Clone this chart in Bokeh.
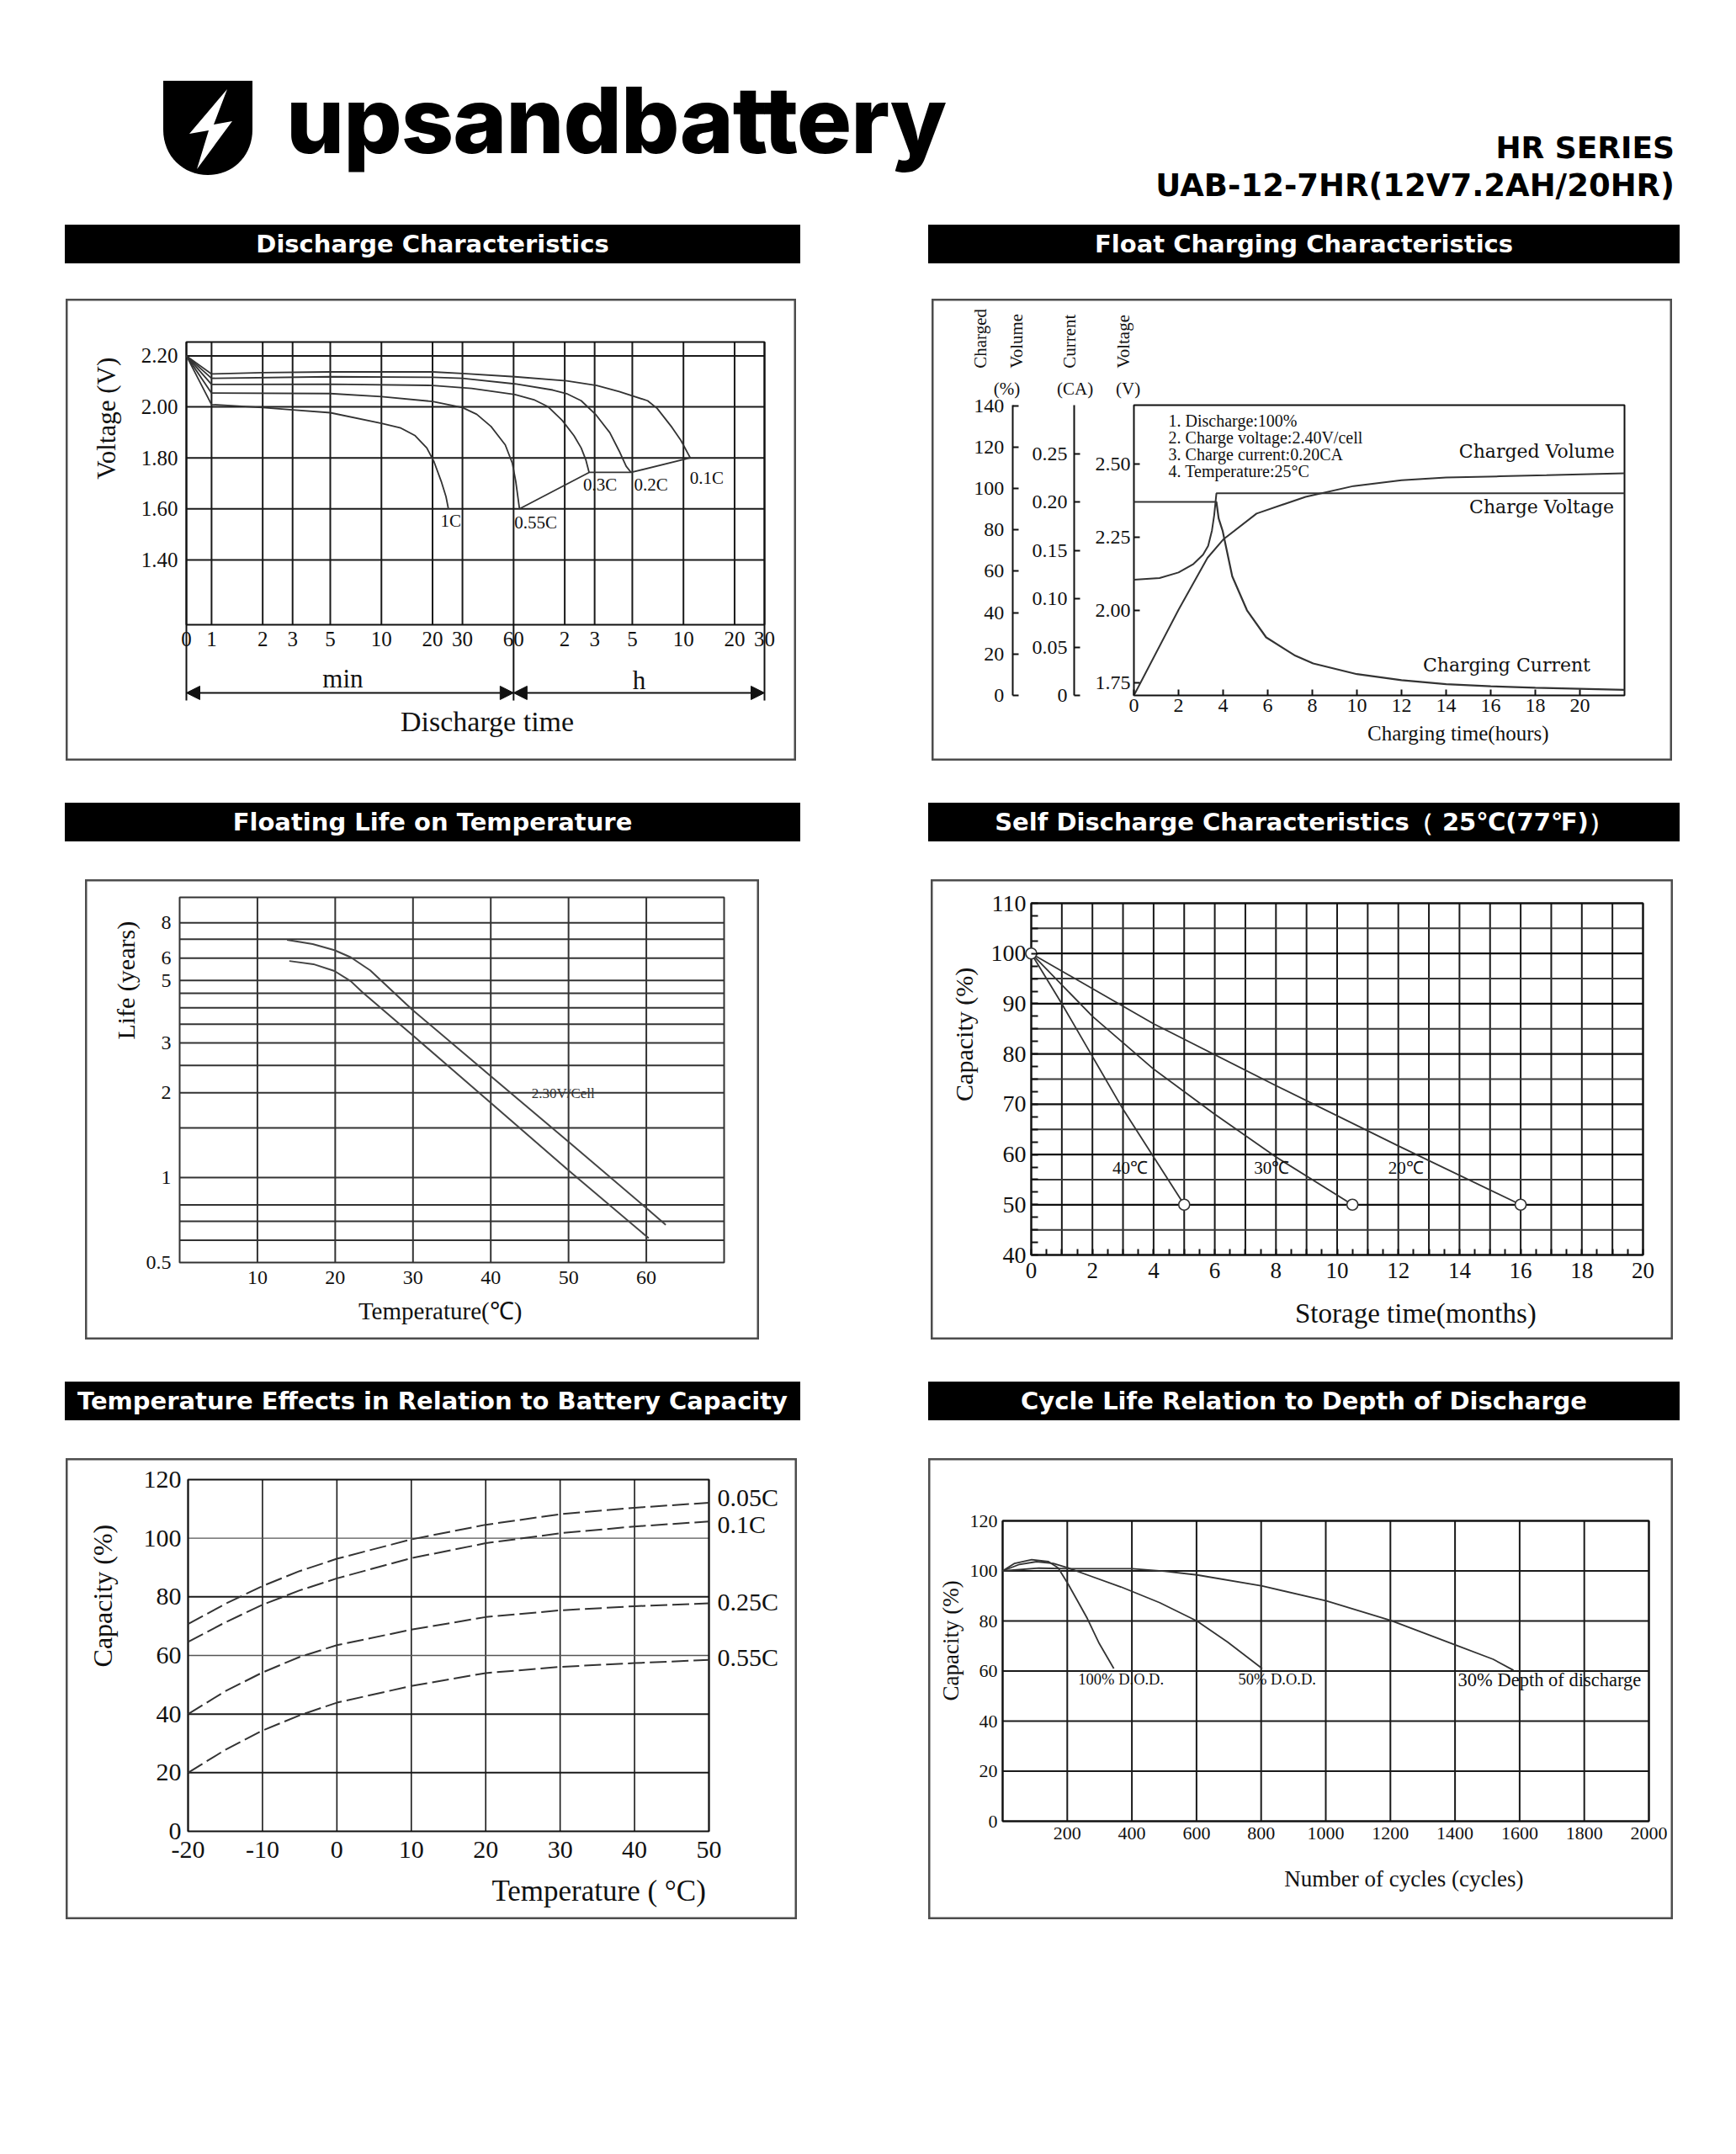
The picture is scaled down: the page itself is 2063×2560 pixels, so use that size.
import numpy as np
from bokeh.plotting import figure
from bokeh.models import (Range1d, LinearAxis, FixedTicker, Label, Arrow, NormalHead,
                          PrintfTickFormatter, Div, Spacer)
from bokeh.layouts import column, row
from bokeh.core.properties import value
from bokeh.embed import file_html
from bokeh.resources import INLINE

SERIF = "Liberation Serif"
TXT = "#111111"
CURVE = "#333333"
GRID = "#1a1a1a"

# ---------------------------------------------------------------- data
# 1) Discharge characteristics (time in minutes, cell voltage)
DIS_T0, DIS_T1 = 0.711, 1800          # time axis: "0" ... 30 h
DIS_V0, DIS_V1 = 1.146, 2.254
dis_ticks = [DIS_T0, 1, 2, 3, 5, 10, 20, 30, 60, 120, 180, 300, 600, 1200, 1800]
dis_tick_labels = ["0", "1", "2", "3", "5", "10", "20", "30", "60", "2", "3", "5", "10", "20", "30"]
dis_v_ticks = [1.4, 1.6, 1.8, 2.0, 2.2]
dis_1c_t = [0.711, 1, 2, 3, 5, 10, 13, 15.8, 18.5, 20.4, 22.5, 24, 24.8]
dis_1c_v = [2.20, 2.009, 1.997, 1.988, 1.977, 1.935, 1.917, 1.887, 1.839, 1.785, 1.708, 1.648, 1.600]
dis_055_t = [0.711, 1, 5, 10, 20, 30, 36.4, 44.2, 53.6, 59, 61.8, 65]
dis_055_v = [2.20, 2.054, 2.052, 2.040, 2.021, 1.997, 1.971, 1.923, 1.851, 1.779, 1.708, 1.600]
dis_03_t = [0.711, 1, 5, 20, 34, 61, 79, 96, 116, 136, 150, 160, 167]
dis_03_v = [2.20, 2.088, 2.089, 2.084, 2.072, 2.048, 2.028, 2.000, 1.947, 1.887, 1.839, 1.791, 1.743]
dis_02_t = [0.711, 1, 5, 20, 30, 61, 102, 123, 150, 182, 221, 251, 276, 295]
dis_02_v = [2.20, 2.112, 2.118, 2.116, 2.112, 2.090, 2.066, 2.052, 2.024, 1.971, 1.899, 1.827, 1.767, 1.743]
dis_01_t = [0.711, 1, 2, 5, 20, 30, 61, 123, 185, 251, 369, 420, 509, 579, 658]
dis_01_v = [2.20, 2.129, 2.134, 2.137, 2.137, 2.131, 2.118, 2.102, 2.084, 2.060, 2.024, 1.994, 1.923, 1.869, 1.800]
dis_names = ["1C", "0.55C", "0.3C", "0.2C", "0.1C"]
dis_label_t = [25.6, 81, 194, 386, 824]
dis_label_v = [1.552, 1.546, 1.696, 1.696, 1.722]

# 2) Float charging characteristics (hours)
FC_T0, FC_T1 = 0, 22
FC_V0, FC_V1 = 1.708, 2.702
FC_A1, FC_P1 = 0.30, 140.3
fc_x_ticks = list(range(0, 21, 2))
fc_vol_t = [0, 2.0, 3.3, 4.0, 5.5, 7.7, 9.85, 12, 14, 16.4, 18.5, 22]
fc_vol_pct = [0, 41.4, 66.5, 75.3, 87.9, 96.0, 101.2, 104.0, 105.3, 105.9, 106.4, 107.4]
fc_volt_t = [0, 1.15, 2.0, 2.67, 3.1, 3.33, 3.5, 3.6, 3.7, 22]
fc_volt_v = [2.104, 2.11, 2.129, 2.158, 2.19, 2.22, 2.273, 2.325, 2.40, 2.40]
fc_cur_t = [0, 3.7, 3.8, 3.98, 4.41, 5.07, 5.93, 7.24, 8.04, 10, 12, 14, 16, 18, 20, 22]
fc_cur_a = [0.20, 0.20, 0.183, 0.170, 0.123, 0.088, 0.060, 0.041, 0.033, 0.022, 0.0158,
            0.0117, 0.0095, 0.0079, 0.0069, 0.0057]
fc_v_ticks = [1.75, 2.00, 2.25, 2.50]
fc_a_ticks = [0, 0.05, 0.10, 0.15, 0.20, 0.25]
fc_p_ticks = [0, 20, 40, 60, 80, 100, 120, 140]
fc_notes = ["1. Discharge:100%", "2. Charge voltage:2.40V/cell",
            "3. Charge current:0.20CA", "4. Temperature:25°C"]

# 3) Floating life on temperature (deg C, years)
FL_T0, FL_T1 = 0, 70
FL_Y0, FL_Y1 = 0.5, 9.85
fl_x_ticks = [10, 20, 30, 40, 50, 60]
fl_y_ticks = [0.5, 1, 2, 3, 5, 6, 8]
fl_y_labels = ["0.5", "1", "2", "3", "5", "6", "8"]
fl_grid = [0.6, 0.7, 0.8, 1, 1.5, 2, 2.5, 3, 3.5, 4, 4.5, 5, 6, 7, 8]
fl_hi_t = [13.8, 17.1, 19.9, 22, 24.5, 29.9, 40, 50, 60, 62.5]
fl_hi_y = [6.96, 6.73, 6.40, 6.04, 5.43, 3.94, 2.29, 1.34, 0.78, 0.68]
fl_lo_t = [14.1, 17.2, 19.9, 22, 23.5, 30, 40, 50, 60.3]
fl_lo_y = [5.86, 5.71, 5.40, 4.97, 4.54, 3.19, 1.84, 1.06, 0.61]

# 4) Self discharge (months, capacity %)
SD_T0, SD_T1, SD_C0, SD_C1 = 0, 20, 40, 110
sd_40_t = [0, 1, 2, 3, 4, 5]
sd_40_c = [100, 90, 79.5, 69, 59.5, 50]
sd_30_t = [0, 2, 4, 6, 8, 10.5]
sd_30_c = [100, 87.5, 77, 68, 59.5, 50]
sd_20_t = [0, 4, 8, 12, 16]
sd_20_c = [100, 86, 73.7, 61.7, 50]
sd_names = ["40℃", "30℃", "20℃"]
sd_label_t = [3.23, 7.86, 12.25]
sd_label_c = [57.3, 57.3, 57.3]

# 5) Temperature effects on capacity (deg C, %)
TE_T0, TE_T1, TE_C0, TE_C1 = -20, 50, 0, 120
te_x_ticks = [-20, -10, 0, 10, 20, 30, 40, 50]
te_x_labels = ["-20", "-10", "0", "10", "20", "30", "40", "50"]
te_t = [-20, -15, -10, -5, 0, 10, 20, 30, 40, 50]
te_005 = [70.7, 77.6, 83.7, 88.8, 93.0, 99.6, 104.6, 108.2, 110.4, 112.1]
te_01 = [64.6, 71.3, 77.3, 82.2, 86.3, 93.2, 98.3, 101.7, 104.0, 105.7]
te_025 = [40.0, 47.8, 54.2, 59.5, 63.5, 68.8, 73.1, 75.4, 76.8, 77.8]
te_055 = [20.0, 27.8, 34.4, 39.6, 43.9, 49.6, 54.0, 56.1, 57.4, 58.5]
te_names = ["0.05C", "0.1C", "0.25C", "0.55C"]
te_label_y = [113.9, 104.9, 78.4, 59.3]

# 6) Cycle life vs depth of discharge (cycles, %)
CL_N0, CL_N1, CL_C0, CL_C1 = 0, 2000, 0, 120
cl_100_n = [0, 37, 90, 142, 172, 202, 232, 262, 299, 344]
cl_100_c = [100, 103.0, 104.5, 103.7, 101.2, 94.9, 88.0, 81.0, 71.0, 61.0]
cl_50_n = [0, 52, 105, 157, 202, 262, 366, 486, 601, 696, 803]
cl_50_c = [100, 102.6, 103.7, 103.0, 101.2, 98.4, 93.6, 87.3, 80.0, 71.6, 61.0]
cl_30_n = [0, 112, 202, 401, 501, 601, 803, 1002, 1201, 1402, 1518, 1581]
cl_30_c = [100, 101.1, 100.9, 100.9, 99.9, 98.4, 94.0, 88.0, 80.2, 70.4, 64.7, 60.3]
cl_names = ["100% D.O.D.", "50% D.O.D.", "30% Depth of discharge"]
cl_label_n = [234, 729, 1409]
cl_label_c = [56.5, 56.5, 56.5]


# ---------------------------------------------------------------- helpers
def ext_range(lo, hi, pad_lo, pad_hi, inner, log=False):
    """View range whose [lo, hi] part occupies `inner` px with the given pixel padding."""
    if log:
        a, b = np.log10(lo), np.log10(hi)
        k = (b - a) / inner
        return Range1d(10 ** (a - pad_lo * k), 10 ** (b + pad_hi * k))
    k = (hi - lo) / inner
    return Range1d(lo - pad_lo * k, hi + pad_hi * k)


def chart(W, H, ml, mr, mt, mb, xlo, xhi, ylo, yhi, x_log=False, y_log=False):
    xr = ext_range(xlo, xhi, ml, mr, W - ml - mr, x_log)
    yr = ext_range(ylo, yhi, mb, mt, H - mt - mb, y_log)
    p = figure(width=W, height=H, x_range=xr, y_range=yr,
               x_axis_type="log" if x_log else "linear",
               y_axis_type="log" if y_log else "linear",
               output_backend="svg", toolbar_location=None, min_border=0)
    p.outline_line_color = "#4d4d4d"
    p.outline_line_width = 4
    p.background_fill_color = "white"
    p.border_fill_color = "white"
    p.grid.visible = False
    for ax in p.axis:
        ax.axis_line_color = None
        ax.major_tick_out = 0
        ax.major_tick_in = 0
        ax.minor_tick_out = 0
        ax.minor_tick_in = 0
        ax.major_tick_line_color = TXT
        ax.major_tick_line_width = 2
        ax.minor_tick_line_color = TXT
        ax.minor_tick_line_width = 2
        ax.major_label_text_font = SERIF
        ax.major_label_text_color = TXT
    p.xaxis.fixed_location = ylo
    p.yaxis.fixed_location = xlo
    p.xaxis.bounds = (xlo, xhi)
    p.yaxis.bounds = (ylo, yhi)
    return p


def vlines(p, xs, y0, y1, color=GRID, width=2):
    p.segment(x0=xs, y0=[y0] * len(xs), x1=xs, y1=[y1] * len(xs),
              line_color=color, line_width=width)


def hlines(p, ys, x0, x1, color=GRID, width=2):
    p.segment(x0=[x0] * len(ys), y0=ys, x1=[x1] * len(ys), y1=ys,
              line_color=color, line_width=width)


def box(p, x0, x1, y0, y1, color="#111111", width=2):
    p.quad(left=x0, right=x1, bottom=y0, top=y1, fill_color=None,
           line_color=color, line_width=width)


def lab(p, x, y, text, size, angle=0.0, align="center", baseline="middle",
        font=SERIF, x_offset=0, color=TXT):
    p.add_layout(Label(x=x, y=y, text=text, angle=angle, text_align=align,
                       text_baseline=baseline, text_font=font,
                       text_font_size=f"{size}px", text_color=color,
                       x_offset=x_offset))


# ---------------------------------------------------------------- 1 discharge
p1 = chart(868, 549, 143, 38, 51, 162, DIS_T0, DIS_T1, DIS_V0, DIS_V1, x_log=True)
p1.xaxis.ticker = FixedTicker(ticks=dis_ticks)
p1.xaxis.major_label_overrides = dict(zip(dis_ticks, dis_tick_labels))
p1.xaxis.major_label_text_font_size = "25px"
p1.xaxis.major_label_standoff = 8
p1.yaxis.ticker = FixedTicker(ticks=dis_v_ticks)
p1.yaxis.formatter = PrintfTickFormatter(format="%.2f")
p1.yaxis.major_label_text_font_size = "25px"
p1.yaxis.major_label_standoff = 10
vlines(p1, dis_ticks, DIS_V0, DIS_V1)
hlines(p1, dis_v_ticks, DIS_T0, DIS_T1)
box(p1, DIS_T0, DIS_T1, DIS_V0, DIS_V1)

dis_curves = [(dis_1c_t, dis_1c_v), (dis_055_t, dis_055_v), (dis_03_t, dis_03_v),
              (dis_02_t, dis_02_v), (dis_01_t, dis_01_v)]
for t, v in dis_curves:
    p1.line(t, v, line_color=CURVE, line_width=1.8)
p1.line([c[0][-1] for c in dis_curves[1:]], [c[1][-1] for c in dis_curves[1:]],
        line_color=CURVE, line_width=1.8)
p1.text(x=dis_label_t, y=dis_label_v, text=dis_names, text_font=value(SERIF),
        text_font_size="21px", text_align="center", text_baseline="middle",
        text_color=TXT)

BR_LOW, BR_ARROW = 0.849, 0.879
for xb in [DIS_T0, 60, DIS_T1]:
    p1.add_layout(Arrow(end=None, x_start=xb, y_start=DIS_V0, x_end=xb, y_end=BR_LOW,
                        line_color=TXT, line_width=2))
for xa, xb in [(DIS_T0, 60), (60, DIS_T1)]:
    p1.add_layout(Arrow(start=NormalHead(size=16, fill_color=TXT, line_color=TXT),
                        end=NormalHead(size=16, fill_color=TXT, line_color=TXT),
                        x_start=xa, y_start=BR_ARROW, x_end=xb, y_end=BR_ARROW,
                        line_color=TXT, line_width=2))
lab(p1, 5.93, 0.935, "min", 31)
lab(p1, 329, 0.928, "h", 31)
lab(p1, 42, 0.766, "Discharge time", 34)
lab(p1, 0.24, 1.955, "Voltage (V)", 31, angle=np.pi / 2)

# ---------------------------------------------------------------- 2 float charging
p2 = chart(880, 549, 240, 57, 126, 78, FC_T0, FC_T1, FC_V0, FC_V1)
p2.extra_y_ranges = {
    "cur": ext_range(0, FC_A1, 78, 126, 549 - 126 - 78),
    "pct": ext_range(0, FC_P1, 78, 126, 549 - 126 - 78),
}
p2.xaxis.ticker = FixedTicker(ticks=fc_x_ticks)
p2.xaxis.major_label_text_font_size = "24px"
p2.xaxis.major_tick_in = 7
p2.xaxis.major_label_standoff = 4
vax = p2.yaxis[0]
vax.ticker = FixedTicker(ticks=fc_v_ticks)
vax.formatter = PrintfTickFormatter(format="%.2f")
vax.major_label_text_font_size = "24px"
vax.major_tick_in = 7
vax.major_label_standoff = 4

cax = LinearAxis(y_range_name="cur", fixed_location=-2.68, bounds=(0, FC_A1),
                 ticker=FixedTicker(ticks=fc_a_ticks),
                 formatter=PrintfTickFormatter(format="%.2f"))
cax.major_label_overrides = {0: "0"}
pax = LinearAxis(y_range_name="pct", fixed_location=-5.44, bounds=(0, FC_P1),
                 ticker=FixedTicker(ticks=fc_p_ticks))
for ax, so in [(cax, 8), (pax, 10)]:
    ax.axis_line_color = TXT
    ax.axis_line_width = 2
    ax.major_tick_in = 7
    ax.major_tick_out = 0
    ax.minor_tick_in = 0
    ax.minor_tick_out = 0
    ax.major_tick_line_color = TXT
    ax.major_tick_line_width = 2
    ax.major_label_standoff = so
    ax.major_label_text_font = SERIF
    ax.major_label_text_font_size = "24px"
    ax.major_label_text_color = TXT
    p2.add_layout(ax, "left")
box(p2, FC_T0, FC_T1, FC_V0, FC_V1)

p2.line(fc_vol_t, fc_vol_pct, y_range_name="pct", line_color=CURVE, line_width=2)
p2.line(fc_volt_t, fc_volt_v, line_color=CURVE, line_width=2)
p2.line(fc_cur_t, fc_cur_a, y_range_name="cur", line_color=CURVE, line_width=2.2)

for txt, xx in [("Charged", -6.87), ("Volume", -5.25), ("Current", -2.87), ("Voltage", -0.49)]:
    lab(p2, xx, 2.828, txt, 21, angle=np.pi / 2, align="left")
for txt, xx in [("(%)", -5.70), ("(CA)", -2.64), ("(V)", -0.26)]:
    lab(p2, xx, 2.759, txt, 21)
for i, note in enumerate(fc_notes):
    lab(p2, 1.55, 2.650 - 0.0585 * i, note, 20, align="left")
lab(p2, 21.56, 2.543, "Charged Volume", 22, align="right", font="DejaVu Serif")
lab(p2, 21.53, 2.353, "Charge Voltage", 22, align="right", font="DejaVu Serif")
lab(p2, 20.47, 1.811, "Charging Current", 22, align="right", font="DejaVu Serif")
lab(p2, 14.54, 1.578, "Charging time(hours)", 25)

# ---------------------------------------------------------------- 3 floating life
p3 = chart(801, 547, 112, 42, 21, 92, FL_T0, FL_T1, FL_Y0, FL_Y1, y_log=True)
p3.xaxis.ticker = FixedTicker(ticks=fl_x_ticks)
p3.xaxis.major_label_text_font_size = "24px"
p3.xaxis.major_label_standoff = 10
p3.yaxis.ticker = FixedTicker(ticks=fl_y_ticks)
p3.yaxis.major_label_overrides = dict(zip(fl_y_ticks, fl_y_labels))
p3.yaxis.major_label_text_font_size = "24px"
p3.yaxis.major_label_standoff = 10
vlines(p3, fl_x_ticks, FL_Y0, FL_Y1, color="#333333")
hlines(p3, fl_grid, FL_T0, FL_T1, color="#333333")
box(p3, FL_T0, FL_T1, FL_Y0, FL_Y1, color="#333333")
p3.line(fl_hi_t, fl_hi_y, line_color="#444444", line_width=2)
p3.line(fl_lo_t, fl_lo_y, line_color="#444444", line_width=2)
p3.text(x=[49.3], y=[1.99], text=["2.30V/Cell"], text_font=value(SERIF),
        text_font_size="17px", text_align="center", text_baseline="middle",
        text_color="#333333")
lab(p3, -6.93, 5.0, "Life (years)", 30, angle=np.pi / 2)
lab(p3, 33.5, 0.336, "Temperature(℃)", 29)

# ---------------------------------------------------------------- 4 self discharge
p4 = chart(882, 547, 119, 36, 28, 101, SD_T0, SD_T1, SD_C0, SD_C1)
p4.xaxis.ticker = FixedTicker(ticks=list(range(0, 21, 2)),
                              minor_ticks=[i * 0.5 for i in range(41)])
p4.xaxis.major_label_text_font_size = "27px"
p4.xaxis.major_label_standoff = 9
p4.xaxis.minor_tick_in = 7
p4.yaxis.ticker = FixedTicker(ticks=list(range(40, 111, 10)),
                              minor_ticks=[40 + i * 2.5 for i in range(29)])
p4.yaxis.major_label_text_font_size = "28px"
p4.yaxis.major_label_standoff = 6
p4.yaxis.minor_tick_in = 8
vlines(p4, list(range(0, 21)), SD_C0, SD_C1)
hlines(p4, list(range(45, 111, 10)), SD_T0, SD_T1, color="#3a3a3a")
hlines(p4, list(range(40, 111, 10)), SD_T0, SD_T1, color="#0d0d0d", width=2.2)
box(p4, SD_T0, SD_T1, SD_C0, SD_C1)
sd_curves = [(sd_40_t, sd_40_c), (sd_30_t, sd_30_c), (sd_20_t, sd_20_c)]
for t, c in sd_curves:
    p4.line(t, c, line_color=CURVE, line_width=1.8)
p4.scatter([sd_40_t[0]] + [t[-1] for t, c in sd_curves],
           [sd_40_c[0]] + [c[-1] for t, c in sd_curves],
           marker="circle", size=13, fill_color="white", line_color=CURVE,
           line_width=1.6)
p4.text(x=sd_label_t, y=sd_label_c, text=sd_names, text_font=value(SERIF),
        text_font_size="21px", text_align="center", text_baseline="middle",
        text_color=TXT)
lab(p4, -2.2, 83.9, "Capacity (%)", 30, angle=np.pi / 2)
lab(p4, 12.57, 28.3, "Storage time(months)", 33)

# ---------------------------------------------------------------- 5 temperature effects
p5 = chart(869, 548, 145, 105, 25, 105, TE_T0, TE_T1, TE_C0, TE_C1)
p5.xaxis.ticker = FixedTicker(ticks=te_x_ticks)
p5.xaxis.major_label_overrides = dict(zip(te_x_ticks, te_x_labels))
p5.xaxis.major_label_text_font_size = "30px"
p5.xaxis.major_label_standoff = 12
p5.yaxis.ticker = FixedTicker(ticks=list(range(0, 121, 20)))
p5.yaxis.major_label_text_font_size = "30px"
p5.yaxis.major_label_standoff = 8
vlines(p5, te_x_ticks, TE_C0, TE_C1, width=1.6)
hlines(p5, [20, 40, 80], TE_T0, TE_T1, width=2)
hlines(p5, [60, 100], TE_T0, TE_T1, color="#555555", width=1.3)
box(p5, TE_T0, TE_T1, TE_C0, TE_C1)
for c in [te_005, te_01, te_025, te_055]:
    p5.line(te_t, c, line_color=CURVE, line_width=2, line_dash="20 6")
for name, ly in zip(te_names, te_label_y):
    lab(p5, TE_T1, ly, name, 30, align="left", x_offset=10)
lab(p5, -31.5, 81.5, "Capacity  (%)", 32, angle=np.pi / 2)
lab(p5, 35.2, -20.4, "Temperature ( °C)", 35)

# ---------------------------------------------------------------- 6 cycle life
p6 = chart(885, 548, 88, 29, 74, 117, CL_N0, CL_N1, CL_C0, CL_C1)
p6.xaxis.ticker = FixedTicker(ticks=list(range(200, 2001, 200)))
p6.xaxis.major_label_text_font_size = "22px"
p6.xaxis.major_label_standoff = 7
p6.yaxis.ticker = FixedTicker(ticks=list(range(0, 121, 20)))
p6.yaxis.major_label_text_font_size = "22px"
p6.yaxis.major_label_standoff = 6
vlines(p6, list(range(0, 2001, 200)), CL_C0, CL_C1)
hlines(p6, list(range(0, 121, 20)), CL_N0, CL_N1)
box(p6, CL_N0, CL_N1, CL_C0, CL_C1)
for n, c in [(cl_100_n, cl_100_c), (cl_50_n, cl_50_c), (cl_30_n, cl_30_c)]:
    p6.line(n, c, line_color=CURVE, line_width=1.8)
p6.text(x=cl_label_n[:2], y=cl_label_c[:2], text=cl_names[:2], text_font=value(SERIF),
        text_font_size="18.5px", text_align="left", text_baseline="middle",
        text_color=TXT)
p6.text(x=cl_label_n[2:], y=cl_label_c[2:], text=cl_names[2:], text_font=value(SERIF),
        text_font_size="22.5px", text_align="left", text_baseline="middle",
        text_color=TXT)
lab(p6, -159, 73.3, "Capacity  (%)", 27, angle=np.pi / 2)
lab(p6, 1242, -22.9, "Number of cycles (cycles)", 27)

# ---------------------------------------------------------------- page furniture
top_svg = (
    '<svg xmlns="http://www.w3.org/2000/svg" width="2063" height="267" style="display:block">'
    '<path d="M194,96 H300 V154 C300,186 276,208 247,208 C218,208 194,186 194,154 Z" fill="#000"/>'
    '<path d="M270,106 L225,159 L248,155 L234,201 L276,144 L254,148 Z" fill="#fff"/>'
    '<text x="340" y="182" style="font-family:Inter,sans-serif;font-weight:800;'
    'font-size:109px;letter-spacing:-1px" fill="#000">upsandbattery</text>'
    '<text x="1990" y="188" text-anchor="end" style="font-family:\'DejaVu Sans\';'
    'font-weight:bold;font-size:36px" fill="#000">HR SERIES</text>'
    '<text x="1990" y="233" text-anchor="end" style="font-family:\'DejaVu Sans\';'
    'font-weight:bold;font-size:37px" fill="#000">UAB-12-7HR(12V7.2AH/20HR)</text>'
    '</svg>')
top_div = Div(text=top_svg, width=2063, height=267, margin=0)


def bar(title, w, h=46):
    html = (f'<div style="width:{w}px;height:{h}px;background:#000;color:#fff;'
            f'font-family:\'DejaVu Sans\',sans-serif;font-weight:bold;font-size:29px;'
            f'line-height:{h}px;text-align:center;white-space:nowrap;overflow:hidden;">'
            f'{title}</div>')
    return Div(text=html, width=w, height=h, margin=0)


def gap(w, h):
    return Spacer(width=w, height=h, margin=0)


def bar_row(t1, t2):
    return row(gap(77, 46), bar(t1, 874), gap(152, 46), bar(t2, 893), spacing=0)


layout = column(
    top_div,
    bar_row("Discharge Characteristics", "Float Charging Characteristics"),
    gap(10, 42),
    row(gap(78, 10), p1, gap(161, 10), p2, spacing=0),
    gap(10, 50),
    bar_row("Floating Life on Temperature", "Self Discharge Characteristics（ 25℃(77℉)）"),
    gap(10, 45),
    row(gap(101, 10), p3, gap(204, 10), p4, spacing=0),
    gap(10, 50),
    bar_row("Temperature Effects in Relation to Battery Capacity",
            "Cycle Life Relation to Depth of Discharge"),
    gap(10, 45),
    row(gap(78, 10), p5, gap(156, 10), p6, spacing=0),
    spacing=0,
)

open("out.html", "w").write(file_html(layout, INLINE))
